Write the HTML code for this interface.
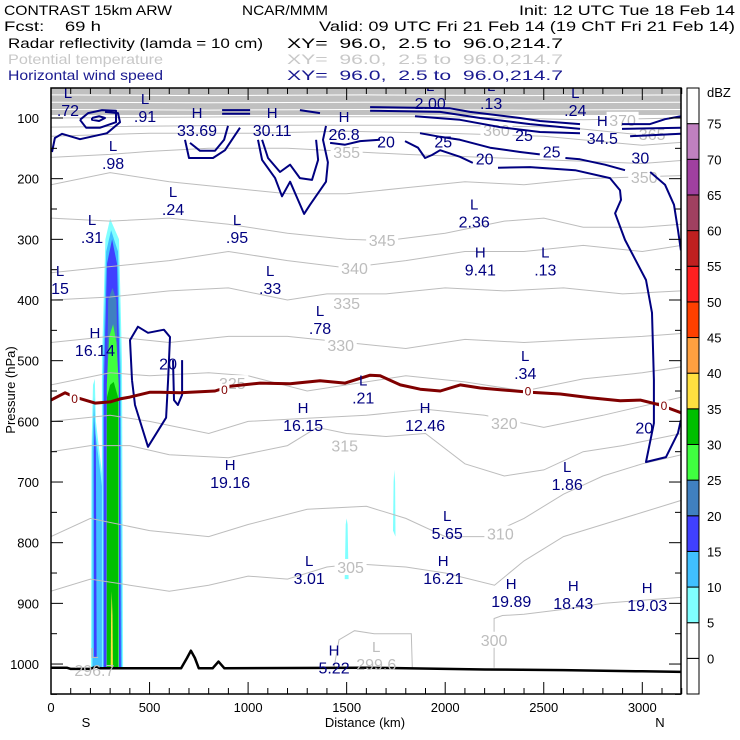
<!DOCTYPE html>
<html><head><meta charset="utf-8"><style>
html,body{margin:0;padding:0;background:#fff;}
svg{display:block;font-family:"Liberation Sans",sans-serif;}
</style></head><body>
<svg id="chart" width="740" height="740" viewBox="0 0 740 740" xmlns="http://www.w3.org/2000/svg">
<g font-size="14">
<text x="4" y="15" textLength="168" lengthAdjust="spacingAndGlyphs">CONTRAST 15km ARW</text>
<text x="242" y="15" textLength="86" lengthAdjust="spacingAndGlyphs">NCAR/MMM</text>
<text x="519" y="15" textLength="216" lengthAdjust="spacingAndGlyphs">Init: 12 UTC Tue 18 Feb 14</text>
<text x="4" y="31" xml:space="preserve" textLength="97" lengthAdjust="spacingAndGlyphs">Fcst:    69 h</text>
<text x="319" y="31" textLength="416" lengthAdjust="spacingAndGlyphs">Valid: 09 UTC Fri 21 Feb 14 (19 ChT Fri 21 Feb 14)</text>
<text x="8" y="48" textLength="255" lengthAdjust="spacingAndGlyphs">Radar reflectivity (lamda = 10 cm)</text>
<text x="287" y="48" xml:space="preserve" textLength="276" lengthAdjust="spacingAndGlyphs">XY=  96.0,  2.5 to  96.0,214.7</text>
<text x="8" y="64" fill="#c8c8c8" textLength="155" lengthAdjust="spacingAndGlyphs">Potential temperature</text>
<text x="287" y="64" fill="#c8c8c8" xml:space="preserve" textLength="276" lengthAdjust="spacingAndGlyphs">XY=  96.0,  2.5 to  96.0,214.7</text>
<text x="8" y="80" fill="#1a1a90" textLength="155" lengthAdjust="spacingAndGlyphs">Horizontal wind speed</text>
<text x="287" y="80" fill="#1a1a90" xml:space="preserve" textLength="276" lengthAdjust="spacingAndGlyphs">XY=  96.0,  2.5 to  96.0,214.7</text>
</g>
<defs><clipPath id="pc"><rect x="51" y="88" width="630" height="606"/></clipPath></defs>
<g id="plot" clip-path="url(#pc)"></g>
<g id="axes"></g>
<g id="cbar"></g>
</svg>
<script>
// ---- data ----
const xTicks = [0,500,1000,1500,2000,2500,3000];
const yTicks = [100,200,300,400,500,600,700,800,900,1000];
const cbLevels = [0,5,10,15,20,25,30,35,40,45,50,55,60,65,70,75];
const cbColors = ['#ffffff','#ffffff','#80ffff','#40c0ff','#4040ff','#4080c0','#40ff40','#00c000','#ffe040','#ffa040','#ff4000','#ff2020','#c02020','#a04060','#a040a0','#c080c0','#ffffff'];
const radarLevels = [5,10,15,5,10,15,20,25,30,35,5,5];
const radarCells = [
 [[203,1006],[205,650],[213,540],[222,530],[228,600],[264,700],[264,1006]],
 [[210,1006],[210,640],[218,560],[226,620],[264,720],[264,1006]],
 [[218,990],[217,650],[222,600],[228,650],[232,990]],
 [[258,1006],[258,500],[276,300],[300,266],[345,300],[360,500],[366,1006]],
 [[263,1006],[263,520],[280,320],[305,285],[340,320],[354,520],[360,1006]],
 [[268,1006],[268,540],[284,340],[310,300],[335,340],[350,540],[354,1006]],
 [[282,1006],[282,600],[290,400],[312,380],[332,400],[344,600],[344,1006]],
 [[282,1006],[283,540],[296,460],[315,440],[332,470],[344,540],[344,1006]],
 [[284,1006],[284,560],[300,540],[318,535],[340,560],[340,1006]],
 [[303,1006],[305,920],[308,880],[312,920],[314,1006]],
 [[1490,860],[1495,770],[1500,760],[1505,770],[1510,860]],
 [[1735,780],[1738,700],[1742,680],[1746,700],[1748,790]]
];
const thetaLevels = [300,305,310,315,320,325,330,335,340,345,350,355,360,365,370];
const thetaLines = [
 [[2248,1006],[2248,925],[2290,920],[2400,918],[2600,910],[2800,900],[3000,895],[3200,890]],
 [[0,880],[200,860],[400,870],[600,880],[800,870],[1000,855],[1200,860],[1400,840],[1550,835],[1800,840],[2000,850],[2250,870],[2400,830],[2600,790],[2800,770],[3000,750],[3200,730]],
 [[0,790],[200,760],[500,780],[800,790],[1000,770],[1300,745],[1600,740],[1800,760],[2000,790],[2200,790],[2400,760],[2600,720],[2800,690],[3000,670],[3200,655]],
 [[0,650],[200,640],[400,640],[600,655],[900,660],[1200,640],[1350,610],[1500,620],[1700,625],[1900,620],[2100,670],[2300,690],[2500,680],[2700,650],[2900,640],[3200,620]],
 [[0,600],[300,590],[500,600],[800,620],[1000,600],[1300,595],[1600,590],[1900,580],[2200,590],[2500,610],[2800,590],[3000,575],[3200,560]],
 [[0,540],[300,520],[500,525],[800,520],[1000,525],[1300,550],[1500,540],[1800,525],[2100,535],[2400,550],[2700,530],[3000,520],[3200,510]],
 [[0,470],[300,460],[600,470],[900,460],[1200,460],[1500,470],[1800,480],[2100,465],[2400,470],[2700,465],[3000,460],[3200,455]],
 [[0,400],[300,395],[600,385],[900,380],[1200,400],[1400,390],[1700,390],[2000,380],[2300,385],[2600,380],[2900,390],[3200,385]],
 [[0,355],[300,345],[600,335],[900,320],[1200,335],[1500,347],[1800,335],[2100,320],[2400,320],[2700,310],[3000,320],[3200,310]],
 [[0,265],[300,270],[600,265],[900,275],[1200,290],[1500,300],[1700,302],[2000,290],[2300,270],[2500,265],[2700,280],[3000,280],[3200,275]],
 [[0,210],[300,190],[600,205],[900,215],[1200,225],[1500,225],[1800,215],[2100,205],[2400,210],[2700,200],[3000,197],[3200,195]],
 [[0,165],[300,160],[500,155],[800,150],[1200,150],[1500,155],[1800,160],[2200,165],[2600,170],[3000,175],[3200,170]],
 [[0,130],[500,125],[1000,125],[1500,122],[2000,125],[2500,130],[3000,145],[3200,140]],
 [[0,115],[1000,112],[2000,112],[2600,115],[3000,128],[3200,125]],
 [[0,100],[1000,98],[2000,98],[2700,103],[3200,100]]
];
const thetaLabelPos = [[2248,960],[1520,840],[2280,785],[1490,640],[2300,603],[920,537],[1470,474],[1500,405],[1540,347],[1680,301],[3010,197],[1500,156],[2260,120],[3050,126],[2900,103]];
const thetaLoop = [[1436,1006],[1461,960],[1540,945],[1640,950],[1740,950],[1828,950],[1833,1006]];
const topBandTop = 50, topBandBottom = 95;
const topWhiteLevels = [62,74,86];
const windLines = [
 [[1416,141],[1492,144],[1568,138],[1669,136]],
 [[1796,138],[1862,149],[1898,166],[1933,161],[1974,153],[2075,164],[2140,174]],
 [[2268,182],[2430,181],[2659,186],[2836,199],[2887,219],[2892,235],[2862,257],[2912,301],[3019,367],[3049,421],[3059,532],[3059,603],[3019,667],[3120,659],[3181,619],[3196,598]],
 [[1872,125],[1974,131],[2075,136],[2228,149],[2380,156],[2480,160]],
 [[2610,166],[2684,168],[2811,177],[2912,186]],
 [[3040,189],[3115,210],[3161,243],[3181,285],[3196,318]],
 [[1619,82],[2025,84],[2126,90],[2380,100],[2481,105],[2684,110]],
 [[1619,88],[1974,90],[2177,100],[2430,110],[2684,118]],
 [[1847,97],[2075,103],[2278,115],[2481,123],[2684,125]],
 [[868,87],[1010,87]],[[868,93],[1010,93]],[[1263,87],[1365,92]],
 [[2897,110],[3039,110],[3115,102],[3196,97]],
 [[2897,118],[3196,116]],
 [[2938,130],[3196,126]],
 [[5,156],[20,133],[56,126],[147,135],[284,125],[350,107],[340,92],[274,90]],
 [[147,103],[188,92],[259,87],[330,88],[330,107],[249,116],[178,116],[147,103]],
 [[208,100],[244,97],[274,100],[244,105],[208,103],[208,100]],
 [[680,136],[700,166],[822,166],[883,153],[918,136],[959,116]],
 [[705,141],[756,154],[832,154],[878,136],[898,113]],
 [[1050,136],[1071,169],[1137,199],[1172,229],[1213,205],[1253,235],[1284,258],[1314,243],[1395,205],[1405,173],[1380,136],[1395,113]],
 [[1071,136],[1101,166],[1162,189],[1213,177],[1263,199],[1324,202],[1355,169],[1345,136]],
 [[411,532],[401,466],[441,444],[492,454],[573,449],[604,461],[594,532],[584,594],[492,642],[426,573],[411,532]],
 [[619,499],[624,565],[644,573],[665,556],[665,499]]
];
const windLabelText = ['20','20','20','25','25','25','20','30'];
const windLabelPos = [[594,505],[3010,610],[1700,139],[1990,139],[2400,128],[2540,155],[2200,167],[2990,165]];
const freezeLine = [[0,565],[71,553],[122,560],[223,570],[300,568],[350,563],[400,560],[503,552],[553,552],[655,553],[832,550],[909,542],[1061,537],[1213,538],[1365,533],[1492,537],[1619,524],[1670,525],[1772,540],[1873,547],[1975,550],[2076,540],[2178,545],[2279,548],[2431,552],[2584,555],[2736,561],[2888,566],[2990,565],[3091,573],[3198,586]];
const freezeLabelPos = [[120,563],[880,548],[2420,551],[3110,575]];
const terrain = [[0,1006],[80,1006],[100,1008],[200,1008],[230,1004],[250,1007],[600,1007],[660,1007],[690,990],[710,978],[730,990],[750,1007],[820,1007],[850,996],[880,1007],[1600,1006],[1800,1007],[2200,1009],[2600,1010],[3000,1012],[3200,1013]];
const hlLetters = ['L','L','H','H','H','L','L','L','H','L','L','L','L','L','H','L','L','L','L','H','L','L','H','H','H','L','L','L','H','H','H','H','H'];
const hlValues = ['.72','.91','33.69','30.11','26.8','2.00','.13','.24','34.5','.98','.24','.31','.95','2.36','9.41','.13','15','.33','.78','16.14','.34','.21','16.15','12.46','19.16','1.86','5.65','3.01','16.21','19.89','18.43','19.03','5.22'];
const hlPos = [[86,87],[477,97],[741,120],[1122,120],[1487,126],[1924,75],[2233,75],[2660,87],[2797,133],[315,174],[619,250],[208,296],[944,296],[2147,271],[2178,350],[2508,350],[46,380],[1112,380],[1365,446],[223,482],[2406,520],[1584,561],[1279,606],[1898,606],[909,700],[2619,703],[2010,784],[1310,858],[1990,858],[2335,896],[2650,899],[3025,903],[1436,1006]];
const grayHLValues = ['296.7','299.6'];
const grayHLPos = [[220,1010],[1650,1000]];

// ---- scales ----
const X = km => 51 + km*0.1971;
const Y = p => 118 + (p-100)*0.6067;
const NS='http://www.w3.org/2000/svg';
function mk(tag, attrs, parent){const e=document.createElementNS(NS,tag);for(const k in attrs)e.setAttribute(k,attrs[k]);parent.appendChild(e);return e;}
const plot=document.getElementById('plot'), axes=document.getElementById('axes'), cbar=document.getElementById('cbar');
const ptsStr = arr => arr.map(p=>X(p[0]).toFixed(1)+','+Y(p[1]).toFixed(1)).join(' ');
const GRAY='#bdbdbd';

let band=mk('rect',{x:51,y:Y(topBandTop),width:630,height:Y(topBandBottom)-Y(topBandTop),fill:'#c0c0c0'},plot);


topWhiteLevels.forEach((p,i)=>{
 let l=mk('polyline',{points:ptsStr([[0,p],[800,p+1],[1600,p],[2400,p+1],[3200,p]]),fill:'none',stroke:'#ffffff','stroke-width':1},plot);
 
 
});
radarCells.forEach((c,i)=>{
 const lv=radarLevels[i]; const col=cbColors[cbLevels.indexOf(lv)+1];
 let e=mk('polygon',{points:ptsStr(c),fill:col,stroke:'none'},plot);
 
 
});
thetaLines.forEach((ln,i)=>{
 let e=mk('polyline',{points:ptsStr(ln),fill:'none',stroke:GRAY,'stroke-width':1},plot);
 
 
});
let tl=mk('polyline',{points:ptsStr(thetaLoop),fill:'none',stroke:GRAY,'stroke-width':1},plot);


thetaLabelPos.forEach((p,i)=>{
 let bg=mk('rect',{x:X(p[0])-16,y:Y(p[1])-8,width:32,height:16,fill:'#fff'},plot);
 
 
 let t=mk('text',{x:X(p[0]),y:Y(p[1])+6,'text-anchor':'middle','font-size':16,fill:GRAY},plot);
 t.textContent=thetaLevels[i];
 
 
});
windLines.forEach(ln=>{
 let e=mk('polyline',{points:ptsStr(ln),fill:'none',stroke:'#000080','stroke-width':2,'stroke-linejoin':'round'},plot);
 
 
});
windLabelPos.forEach((p,i)=>{
 let t=mk('text',{x:X(p[0]),y:Y(p[1])+6,'text-anchor':'middle','font-size':16,fill:'#000080'},plot);
 t.textContent=windLabelText[i];
 
 
});
let fz=mk('polyline',{points:ptsStr(freezeLine),fill:'none',stroke:'#800000','stroke-width':3,'stroke-linejoin':'round'},plot);


freezeLabelPos.forEach(p=>{
 let bg=mk('rect',{x:X(p[0])-5,y:Y(p[1])-6,width:10,height:12,fill:'#fff'},plot);
 
 
 let t=mk('text',{x:X(p[0]),y:Y(p[1])+4,'text-anchor':'middle','font-size':12,fill:'#800000'},plot);
 t.textContent='0';
 
 
});
let tr=mk('polyline',{points:ptsStr(terrain),fill:'none',stroke:'#000','stroke-width':2.5,'stroke-linejoin':'round'},plot);


hlPos.forEach((p,i)=>{
 let a=mk('text',{x:X(p[0]),y:Y(p[1])-12,'text-anchor':'middle','font-size':15,fill:'#000080'},plot);
 a.textContent=hlLetters[i];
 
 
 let b=mk('text',{x:X(p[0]),y:Y(p[1])+6,'text-anchor':'middle','font-size':16,fill:'#000080'},plot);
 b.textContent=hlValues[i];
 
 
});
grayHLPos.forEach((p,i)=>{
 let a=mk('text',{x:X(p[0]),y:Y(p[1])-12,'text-anchor':'middle','font-size':15,fill:GRAY},plot);
 a.textContent='L';
 
 
 let b=mk('text',{x:X(p[0]),y:Y(p[1])+6,'text-anchor':'middle','font-size':16,fill:GRAY},plot);
 b.textContent=grayHLValues[i];
 
 
});

let fr=mk('rect',{x:51,y:88,width:630,height:606,fill:'none',stroke:'#000','stroke-width':1.5},axes);


for(let km=0;km<=3200;km+=100){
 const big = km%500===0, len = big?12:6;
 let a=mk('line',{x1:X(km),x2:X(km),y1:694,y2:694-len,stroke:'#000'},axes);
 
 
 let b=mk('line',{x1:X(km),x2:X(km),y1:88,y2:88+len,stroke:'#000'},axes);
 
 
}
xTicks.forEach(v=>{
 let t=mk('text',{x:X(v),y:712,'text-anchor':'middle','font-size':13},axes);
 t.textContent=v;
 
 
});
for(let p=100;p<=1050;p+=50){
 const big=p%100===0, len=big?12:6;
 let a=mk('line',{x1:51,x2:51+len,y1:Y(p),y2:Y(p),stroke:'#000'},axes);
 
 
 let b=mk('line',{x1:681,x2:681-len,y1:Y(p),y2:Y(p),stroke:'#000'},axes);
 
 
}
yTicks.forEach(v=>{
 let t=mk('text',{x:39,y:Y(v)+5,'text-anchor':'end','font-size':13},axes);
 t.textContent=v;
 
 
});
let yt=mk('text',{x:0,y:0,'text-anchor':'middle','font-size':13,transform:'translate(15,390) rotate(-90)'},axes);
yt.textContent='Pressure (hPa)';


let xt=mk('text',{x:365,y:727,'text-anchor':'middle','font-size':13},axes);
xt.textContent='Distance (km)';


let sl=mk('text',{x:86,y:727,'text-anchor':'middle','font-size':13},axes);
sl.textContent='S';


let nl=mk('text',{x:660,y:727,'text-anchor':'middle','font-size':13},axes);
nl.textContent='N';



const cbTop=88, cbH=606/cbColors.length;
cbColors.forEach((c,i)=>{
 const k=cbColors.length-1-i;
 let r=mk('rect',{x:687,y:cbTop+k*cbH,width:12,height:cbH,fill:c,stroke:'#000','stroke-width':1},cbar);
 
 
});
cbLevels.forEach((v,i)=>{
 const yy=cbTop+(cbColors.length-1-i)*cbH;
 let t=mk('text',{x:707,y:yy+5,'font-size':13},cbar);
 t.textContent=v;
 
 
});
let du=mk('text',{x:707,y:97,'font-size':13},cbar);
du.textContent='dBZ';


</script>
</body></html>
